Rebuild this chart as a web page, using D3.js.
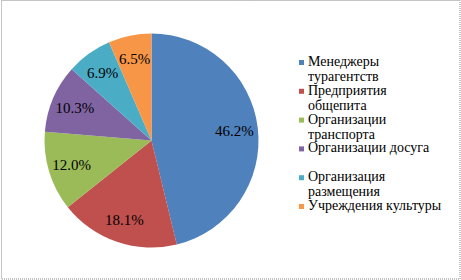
<!DOCTYPE html>
<html>
<head>
<meta charset="utf-8">
<script src="https://cdn.jsdelivr.net/npm/d3@7"></script>
<style>
  body { margin: 0; background: #fff; }
  svg text { font-family: "Liberation Serif", Tinos, "Times New Roman", serif; }
</style>
</head>
<body>
<div id="chart"></div>
<script>
// Data
const categories = ["Менеджеры турагентств", "Предприятия общепита", "Организации транспорта",
    "Организации досуга", "Организация размещения", "Учреждения культуры"];
const shares = [46.2, 18.1, 12.0, 10.3, 6.9, 6.5];
const colors = ["#4F81BD", "#C0504D", "#9BBB59", "#8064A2", "#4BACC6", "#F79646"];
// how the legend entries break into lines
const legendLines = [["Менеджеры", "турагентств"], ["Предприятия", "общепита"], ["Организации", "транспорта"],
    ["Организации досуга"], ["Организация", "размещения"], ["Учреждения культуры"]];

const width = 461, height = 280;
const cx = 151.5, cy = 140.5, radius = 107;

function draw() {
    const svg = d3.select("#chart")
        .append("svg")
        .attr("width", width)
        .attr("height", height);

    // Dashed frame
    svg.append("rect")
        .attr("x", 1.5).attr("y", 0.5)
        .attr("width", width - 2.5).attr("height", height - 1.5)
        .attr("fill", "none")
        .attr("stroke", "#8a8a8a")
        .attr("stroke-dasharray", "1,1");

    const data = categories.map((c, i) => ({ name: c, value: shares[i], color: colors[i], lines: legendLines[i] }));

    const pie = d3.pie().sort(null).value(d => d.value);
    const arc = d3.arc().innerRadius(0).outerRadius(radius);
    const labelArc = d3.arc().innerRadius(radius * 0.78).outerRadius(radius * 0.78);

    const g = svg.append("g").attr("transform", `translate(${cx},${cy})`);
    const arcs = pie(data);

    g.selectAll("path")
        .data(arcs)
        .enter()
        .append("path")
        .attr("d", arc)
        .attr("fill", d => d.data.color);

    g.selectAll(".lbl")
        .data(arcs)
        .enter()
        .append("text")
        .attr("class", "lbl")
        .attr("transform", d => `translate(${labelArc.centroid(d)})`)
        .attr("text-anchor", "middle")
        .attr("dy", "0.35em")
        .attr("font-size", 15)
        .attr("fill", "#000")
        .text(d => d.data.value.toFixed(1) + "%");

    // Legend
    const rowStep = 28.8, lineStep = 15;
    const legend = svg.append("g").attr("transform", "translate(299,66)");
    const rows = legend.selectAll("g")
        .data(data)
        .enter()
        .append("g")
        .attr("transform", (d, i) => `translate(0,${i * rowStep})`);

    rows.append("rect")
        .attr("x", 0).attr("y", -6)
        .attr("width", 5).attr("height", 5)
        .attr("fill", d => d.color);

    rows.append("text")
        .attr("font-size", 14)
        .attr("fill", "#000")
        .selectAll("tspan")
        .data(d => d.lines)
        .enter()
        .append("tspan")
        .attr("x", 9)
        .attr("y", (d, j) => j * lineStep)
        .text(d => d);
}

if (document.fonts && document.fonts.load) {
    document.fonts.load("14px 'Liberation Serif'").then(draw, draw);
} else {
    draw();
}
</script>
</body>
</html>
